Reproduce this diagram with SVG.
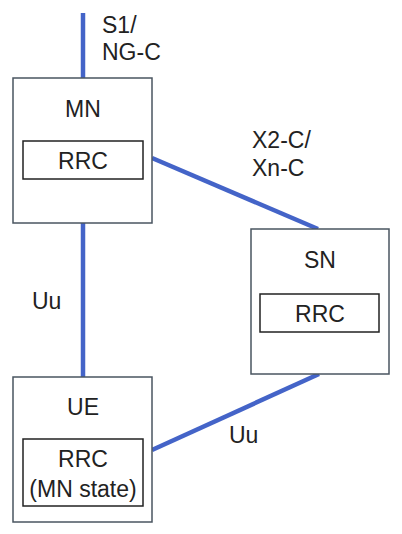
<svg xmlns="http://www.w3.org/2000/svg" width="402" height="534" viewBox="0 0 402 534">
<style>
.box{fill:#fff;stroke:#4a5560;stroke-width:1.5}
.inner{fill:#fff;stroke:#222;stroke-width:1.5}
.link{stroke:#4464c8;stroke-width:4.5;fill:none}
text{font-family:"Liberation Sans",Arial,sans-serif;font-size:23px;fill:#222}
.c{text-anchor:middle}
</style>
<rect width="402" height="534" fill="#fff"/>
<g id="connectors">
<line class="link" x1="83" y1="13" x2="83" y2="78"/>
<line class="link" x1="83" y1="223" x2="83" y2="377"/>
<line class="link" x1="152" y1="158" x2="318" y2="229"/>
<line class="link" x1="152" y1="450" x2="319" y2="374"/>
<text x="102" y="33">S1/<tspan x="102" y="60">NG-C</tspan></text>
<text x="252" y="148">X2-C/<tspan x="252" y="176">Xn-C</tspan></text>
<text x="32" y="309">Uu</text>
<text x="229" y="443">Uu</text>
</g>
<g id="MN">
<rect class="box" x="13" y="78" width="139" height="145"/>
<text class="c" x="83" y="117">MN</text>
<rect class="inner" x="23" y="141" width="120" height="38"/>
<text class="c" x="83" y="169">RRC</text>
</g>
<g id="SN">
<rect class="box" x="251" y="229" width="138" height="145"/>
<text class="c" x="320" y="268">SN</text>
<rect class="inner" x="260" y="294" width="119" height="38"/>
<text class="c" x="320" y="322">RRC</text>
</g>
<g id="UE">
<rect class="box" x="13" y="377" width="139" height="145"/>
<text class="c" x="83" y="415">UE</text>
<rect class="inner" x="23" y="439" width="120" height="67"/>
<text class="c" x="83" y="467">RRC<tspan x="83" y="497">(MN state)</tspan></text>
</g>
</svg>
